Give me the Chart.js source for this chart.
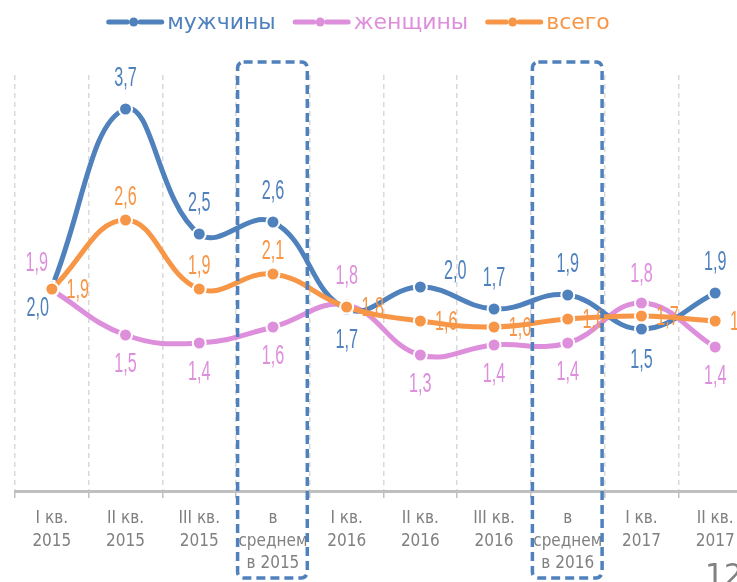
<!DOCTYPE html>
<html><head><meta charset="utf-8">
<style>
html,body{margin:0;padding:0;overflow:hidden;background:#fff;width:737px;height:582px}
#wrap{position:absolute;left:0;top:0;width:770px;height:582px}
</style>
<script src="https://cdn.jsdelivr.net/npm/chart.js@4.4.1/dist/chart.umd.min.js"></script>
</head><body><div id="wrap"><canvas id="c" width="770" height="582"></canvas></div>
<script>
// ---- data ----
const categories = [["I кв.","2015"],["II кв.","2015"],["III кв.","2015"],["в","среднем","в 2015"],["I кв.","2016"],["II кв.","2016"],["III кв.","2016"],["в","среднем","в 2016"],["I кв.","2017"],["II кв.","2017"]];
const seriesNames = ["мужчины","женщины","всего"];
const men   = [1.96, 3.74, 2.49, 2.61, 1.74, 1.96, 1.74, 1.88, 1.54, 1.90];
const women = [1.93, 1.48, 1.40, 1.56, 1.78, 1.28, 1.38, 1.40, 1.80, 1.36];
const total = [1.94, 2.63, 1.94, 2.09, 1.76, 1.62, 1.56, 1.64, 1.67, 1.62];
const averageCategories = [3, 7];
const pageNumber = "12";

// ---- label placement (style) ----
const menPos   = ['bl','t','t','t','b','tr','t','t','b','t'];
const womenPos = ['tl','b','b','b','t','b','b','b','t','b'];
const totalPos = ['r','t','t','t','r','r','r','r','r','r'];

const C_MEN = '#4f81bd', C_WOMEN = '#de8fdc', C_TOTAL = '#f79646';

function ds(label, data, color, order, pos, dist) {
  return {label, data, borderColor: color, backgroundColor: color,
    pointBackgroundColor: color, pointBorderColor: '#ffffff', pointBorderWidth: 2,
    pointRadius: 6.5, pointHoverRadius: 6.5, borderWidth: 5, tension: 0.42,
    borderCapStyle: 'round', fill: false, order, labelPos: pos, labelDist: dist};
}

const fmt = v => v.toFixed(1).replace('.', ',');

const labelPlugin = {
  id: 'valueLabels',
  afterDatasetsDraw(chart) {
    const ctx = chart.ctx;
    const order = [1, 0, 2];
    order.forEach(di => {
      const d = chart.data.datasets[di];
      const meta = chart.getDatasetMeta(di);
      meta.data.forEach((pt, i) => {
        const p = d.labelPos[i];
        const dist = d.labelDist;
        let dx = 0, dy = 0;
        if (p === 't') dy = -dist;
        else if (p === 'b') dy = dist;
        else if (p === 'r') { dx = 26; dy = 1; }
        else if (p === 'tl') { dx = -15; dy = -27; }
        else if (p === 'bl') { dx = -14; dy = 21; }
        else if (p === 'tr') { dx = 35; dy = -16; }
        ctx.save();
        ctx.translate(pt.x + dx, pt.y + dy);
        ctx.scale(0.6, 1);
        ctx.font = '27px "Liberation Sans"';
        ctx.fillStyle = d.borderColor;
        ctx.textAlign = 'center';
        ctx.textBaseline = 'middle';
        ctx.fillText(fmt(d.data[i]), 0, 1);
        ctx.restore();
      });
    });
  }
};

const decorPlugin = {
  id: 'decor',
  afterDraw(chart) {
    const ctx = chart.ctx;
    const xs = chart.scales.x;
    const half = (xs.getPixelForValue(1) - xs.getPixelForValue(0)) / 2;
    // dashed boxes around yearly averages
    averageCategories.forEach(i => {
      const xc = xs.getPixelForValue(i);
      const l = xc - half + 1.5, r = xc + half - 2.5;
      const t = chart.chartArea.top - 13, b = chart.height - 4;
      ctx.save();
      ctx.strokeStyle = C_MEN;
      ctx.lineWidth = 3.5;
      ctx.setLineDash([9, 5]);
      ctx.beginPath();
      ctx.roundRect(l, t, r - l, b - t, 6);
      ctx.stroke();
      ctx.restore();
    });
    // legend
    ctx.save();
    ctx.font = '22px "DejaVu Sans"';
    ctx.textBaseline = 'middle';
    const symW = 58, gap = 3, spacing = 17;
    const items = chart.data.datasets.map(d => ({label: d.label, color: d.borderColor, w: symW + gap + ctx.measureText(d.label).width}));
    const totalW = items.reduce((s, it) => s + it.w, 0) + spacing * (items.length - 1);
    let x = 358 - totalW / 2;
    const cy = 22;
    items.forEach(it => {
      ctx.strokeStyle = it.color; ctx.fillStyle = it.color;
      ctx.lineWidth = 5; ctx.lineCap = 'round';
      ctx.beginPath(); ctx.moveTo(x + 2.5, cy); ctx.lineTo(x + 21, cy); ctx.stroke();
      ctx.beginPath(); ctx.moveTo(x + 34, cy); ctx.lineTo(x + 55.5, cy); ctx.stroke();
      ctx.beginPath(); ctx.arc(x + 27.5, cy, 4.5, 0, Math.PI * 2); ctx.fill();
      ctx.fillText(it.label, x + symW + gap, cy + 1);
      x += it.w + spacing;
    });
    // page number
    ctx.fillStyle = '#808080';
    ctx.font = '30px "DejaVu Sans"';
    ctx.textBaseline = 'alphabetic';
    ctx.fillText(pageNumber, 705, 585);
    ctx.restore();
  }
};

new Chart(document.getElementById('c'), {
  type: 'line',
  data: {
    labels: categories,
    datasets: [
      ds(seriesNames[0], men, C_MEN, 1, menPos, 31),
      ds(seriesNames[1], women, C_WOMEN, 2, womenPos, 29),
      ds(seriesNames[2], total, C_TOTAL, 0, totalPos, 23)
    ]
  },
  options: {
    responsive: false,
    animation: false,
    layout: {padding: {left: 15, right: 18, top: 75, bottom: 0}},
    plugins: {legend: {display: false}, tooltip: {enabled: false}},
    scales: {
      x: {
        offset: true,
        afterFit(s) { s.height = 91; },
        grid: {offset: true, color: '#d9d9d9', lineWidth: 1.5, drawTicks: true,
               tickLength: 7, tickColor: '#bfbfbf', tickBorderDash: [], tickWidth: 1.5},
        border: {color: '#bfbfbf', width: 3, dash: [5, 4]},
        ticks: {color: '#808080', padding: 10, maxRotation: 0, autoSkip: false,
                font: {family: '"DejaVu Sans Condensed", "DejaVu Sans"', size: 17, lineHeight: 1.3}}
      },
      y: {display: false, min: -0.08, max: 4.08}
    }
  },
  plugins: [labelPlugin, decorPlugin]
});
</script>
</body></html>
